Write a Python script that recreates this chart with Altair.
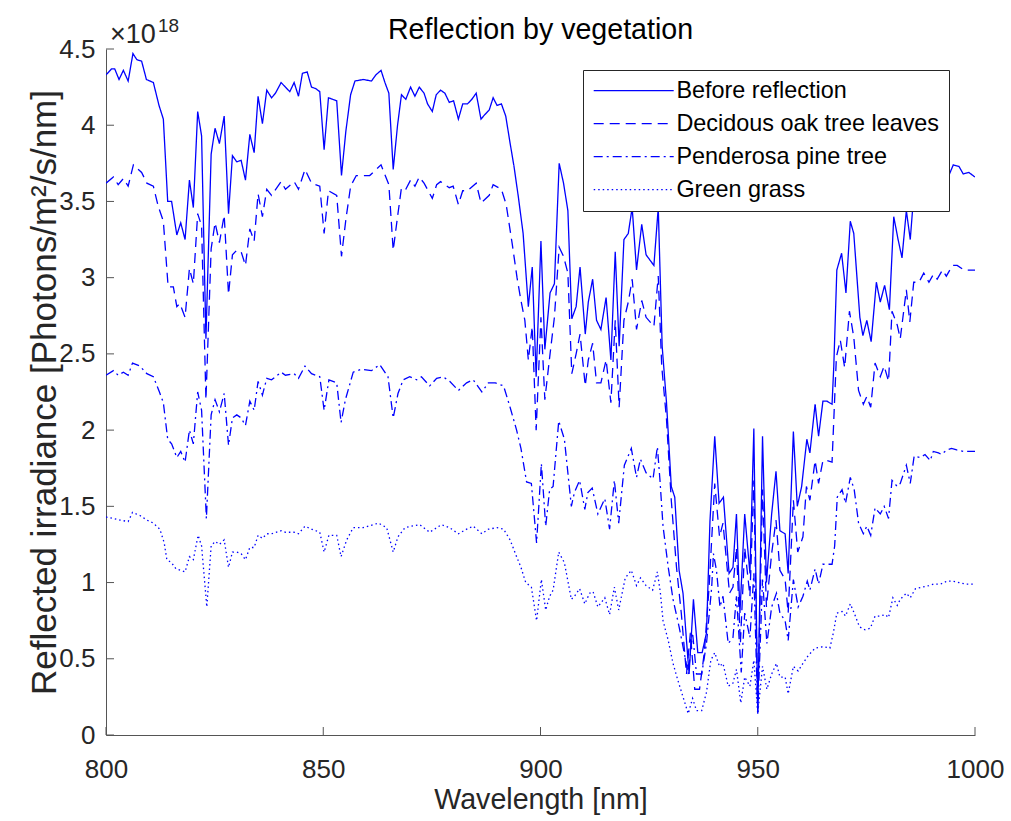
import altair as alt
import pandas as pd

# Reflected irradiance spectra (units of 1e18 photons/m^2/s/nm)
wl_before = [800, 801.3, 802, 803, 804, 805.1, 806.2, 807.1, 808.2, 809.3, 810.9, 812.2, 813.2, 814.2, 815.1,
             816.3, 817.2, 818.2, 819.2, 820.1, 821.1, 822, 823, 824.2, 825.1, 826.1, 827.2, 828.2, 829.1, 830.1,
             831.1, 832.1, 833.1, 834.1, 835, 836, 837, 838.1, 839, 840.3, 841.3, 842.3, 843.3, 844.3, 845.2,
             846.3, 847.3, 848.3, 849.2, 850.2, 851.2, 853.1, 854.2, 855.2, 856.3, 857.3, 859.2, 861.1, 862.1,
             863.3, 864.2, 865.1, 866.1, 867.1, 868, 869, 870.1, 871.1, 872.1, 873.2, 874, 875.1, 876, 877, 878,
             879, 880, 881.1, 882.1, 883.2, 884.2, 885.2, 886.3, 887.2, 888.2, 889.1, 890, 891, 892, 892.9,
             893.9, 894.9, 896, 897.2, 898.1, 899, 900.1, 901, 902.2, 903.2, 904.3, 905.3, 906.3, 907.2, 908.2,
             909.1, 910.3, 911, 912, 912.9, 913.9, 915.1, 916.2, 917.2, 918.1, 919.2, 920.2, 921.1, 922.1, 923.3,
             924.3, 926.1, 927.1, 928, 929, 930.1, 930.9, 931.9, 932.8, 933.6, 934.2, 935.2, 936.2, 937.2, 938.2,
             939, 940.1, 941.1, 942.1, 943.4, 944.3, 945.1, 945.9, 947, 948.2, 949.1, 950, 951.1, 952, 953.2,
             954.2, 955.1, 956.3, 957, 958.2, 959.1, 960.1, 961.3, 962, 963.2, 964, 965, 965.9, 967.1, 967.5,
             968.2, 969.3, 970.3, 971.3, 972.1, 973.5, 974.2, 975.1, 976.1, 977.3, 978.2, 979.2, 980.3, 981.3,
             982.3, 983.2, 984.2, 985.1, 986, 987.1, 988.2, 989.4, 990.4, 991.3, 992.5, 993.4, 995, 996.3, 997.3,
             998.6, 1000]
before = [4.33, 4.37, 4.37, 4.30, 4.36, 4.29, 4.47, 4.43, 4.42, 4.30, 4.28, 4.13, 4.04, 3.50, 3.50,
          3.28, 3.36, 3.25, 3.64, 3.46, 4.09, 3.93, 2.60, 3.81, 3.98, 3.88, 4.06, 3.42, 3.80, 3.76,
          3.77, 3.64, 3.94, 3.82, 4.19, 4.01, 4.23, 4.18, 4.21, 4.28, 4.25, 4.22, 4.28, 4.19, 4.34,
          4.35, 4.25, 4.24, 4.22, 3.84, 4.18, 4.16, 3.67, 3.96, 4.20, 4.29, 4.30, 4.29, 4.33,
          4.36, 4.28, 4.21, 3.71, 4.00, 4.20, 4.17, 4.25, 4.19, 4.25, 4.21, 4.14, 4.09, 4.20, 4.23, 4.21,
          4.15, 4.16, 4.04, 4.14, 4.14, 4.17, 4.21, 4.04, 4.07, 4.10, 4.18, 4.13, 4.14, 4.06, 3.90,
          3.73, 3.53, 3.29, 2.81, 3.07, 2.35, 3.24, 2.53, 2.90, 2.96, 3.75, 3.62, 3.44, 2.73, 2.81,
          3.07, 2.63, 2.84, 2.99, 2.72, 2.66, 2.87, 2.46, 3.17, 2.55, 3.25, 3.29, 3.46, 3.05, 3.35,
          3.15, 3.08, 3.46, 2.55, 2.18, 1.63, 1.56, 1.08, 0.93, 0.62, 0.40, 0.89, 0.54, 0.54, 0.67,
          1.40, 1.96, 1.52, 1.56, 1.06, 1.10, 1.45, 0.80, 1.45, 1.06, 2.01, 0.14, 1.96, 1.00, 1.45,
          1.73, 1.34, 1.32, 1.06, 1.99, 1.50, 1.63, 1.94, 1.85, 2.17, 1.96, 2.19, 2.19, 2.17, 2.42,
          3.05, 3.16, 2.90, 3.37, 3.29, 2.74, 2.62, 2.72, 2.58, 2.97, 2.84, 2.95, 2.79, 3.40,
          3.25, 3.13, 3.44, 3.25, 3.58, 3.58, 3.65, 3.58, 3.64, 3.60, 3.67, 3.63, 3.74, 3.73, 3.68,
          3.69, 3.66]

wl_oak = [800, 801.7, 802.8, 804, 805.1, 806.3, 808.2, 809.4, 810.9, 812, 813.2, 814.3, 815.5, 816.3, 817,
          818.2, 819.2, 820.1, 821.1, 822, 823, 824.2, 825.1, 826.1, 827.2, 828.2, 829.1, 830.1, 831.1, 832.1,
          833.1, 834.1, 835, 836, 837, 838.1, 840.3, 841.3, 843.3, 844.3, 845.8, 847.3, 849.2, 850.2, 851.2,
          853.1, 854.2, 855.2, 856.3, 857.6, 860.7, 863.3, 865.1, 866.1, 867.1, 868, 869, 870.1, 871.1, 872.1,
          873.2, 875.1, 876.1, 877, 879, 879.9, 881.1, 882.1, 883.2, 885.2, 886.3, 888.2, 889.1, 891, 892.1,
          893.5, 894.6, 895.5, 896.4, 897.2, 898.1, 899, 900.1, 901, 902.2, 903.2, 904.3, 905.3, 906.3, 907.2,
          908.2, 909.1, 910.3, 911, 912, 912.9, 913.9, 915.1, 916.2, 917.2, 918.1, 919.2, 920.2, 921.1, 922.1,
          923.3, 924.3, 926.1, 927.1, 927.9, 929, 930.1, 931.3, 932.4, 933.6, 934.5, 935.5, 936.6, 937.7,
          938.8, 940.1, 941.2, 942, 943.5, 944.3, 945.1, 946, 947, 948.2, 949.1, 950, 951.1, 952, 953.2, 954.2,
          955.1, 956.3, 957, 958.2, 959.2, 960.4, 961.2, 962, 963.2, 964, 965, 965.9, 967.1, 968.1, 969, 970,
          971.1, 972.1, 973.2, 974.3, 975.1, 976, 977, 978.2, 979.1, 980.1, 980.9, 982.1, 982.8, 984.2, 985,
          985.9, 987.1, 988.2, 989.4, 990.4, 991.3, 992.5, 993.4, 994.8, 995.9, 997.5, 999.4, 1000]
oak = [3.62, 3.66, 3.61, 3.65, 3.60, 3.74, 3.69, 3.62, 3.60, 3.47, 3.37, 2.94, 2.94, 2.81, 2.83,
       2.74, 3.06, 2.96, 3.42, 3.34, 2.20, 3.19, 3.36, 3.23, 3.41, 2.89, 3.15, 3.18, 3.17, 3.08,
       3.32, 3.24, 3.55, 3.40, 3.58, 3.54, 3.63, 3.58, 3.63, 3.58, 3.71, 3.62, 3.60, 3.29, 3.57,
       3.54, 3.14, 3.38, 3.60, 3.67, 3.67, 3.74, 3.61, 3.18, 3.40, 3.59, 3.58, 3.64, 3.60, 3.66,
       3.62, 3.52, 3.61, 3.63, 3.59, 3.60, 3.48, 3.57, 3.57, 3.62, 3.49, 3.54, 3.61, 3.58, 3.48,
       3.22, 3.00, 2.85, 2.72, 2.46, 2.68, 2.00, 2.74, 2.20, 2.50, 2.74, 3.20, 3.14, 3.03, 2.37,
       2.50, 2.63, 2.29, 2.46, 2.57, 2.31, 2.31, 2.46, 2.18, 2.72, 2.15, 2.72, 2.84, 2.99, 2.66,
       2.85, 2.74, 2.68, 3.01, 2.42, 2.07, 1.54, 1.10, 0.80, 0.40, 0.67, 0.30, 0.30, 0.54,
       0.97, 1.65, 1.30, 1.39, 0.93, 0.97, 1.23, 0.60, 1.23, 0.91, 1.67, 0.17, 1.61, 0.84, 1.19, 1.41,
       1.08, 1.02, 0.80, 1.54, 1.20, 1.30, 1.63, 1.54, 1.80, 1.65, 1.80, 1.80, 1.79, 2.48, 2.59, 2.41,
       2.78, 2.61, 2.26, 2.17, 2.22, 2.15, 2.44, 2.35, 2.42, 2.32, 2.78, 2.69, 2.60, 2.92, 2.71,
       2.97, 2.97, 3.03, 2.97, 3.02, 2.99, 3.05, 3.01, 3.08, 3.08, 3.05, 3.05, 3.05]

wl_pine = [800, 801.7, 802.8, 804, 805.1, 806.1, 807.8, 809.4, 810.9, 812.3, 813.2, 814.2, 815.1, 816.3, 817.2,
           818.2, 819.2, 820.1, 821.1, 822, 823.1, 824.2, 825.1, 826.1, 827.2, 828.2, 829.1, 830.1, 831.1, 832.1,
           833.1, 834.1, 835, 836, 837, 838.1, 840.3, 841.3, 843.3, 844.3, 845.8, 847.3, 849.2, 850.2, 851.3,
           853.1, 854.1, 855.1, 856.9, 858.8, 861.1, 863, 864.9, 866.1, 867.2, 868.4, 869.9, 871.5, 872.6, 874.5,
           876.1, 877.6, 879.1, 881.1, 883, 884.5, 886.5, 888, 889.6, 891.5, 893, 894.5, 895.5, 896.8, 897.9,
           899.1, 900.2, 901.2, 902.1, 902.9, 904.2, 905.5, 907.1, 907.8, 909, 910.2, 910.9, 911.9, 913.2, 914.8,
           915.9, 917, 918, 919.3, 920.9, 922.1, 923, 924.3, 925.9, 926.9, 927.5, 928.2, 929.4, 930.5, 931.9,
           932.8, 934, 935, 935.9, 937.1, 938.2, 939.4, 939.8, 940.5, 941.3, 942, 943.2, 944.3, 945.1, 946.2,
           947, 948.2, 949.1, 950, 951.1, 952.1, 953.2, 954.3, 955.1, 956.3, 957, 958.2, 959.3, 960.4, 961.4,
           962, 963.2, 964, 965, 967.1, 967.7, 968.3, 969.4, 970.2, 971.3, 972.2, 973.2, 974.3, 975.1, 976,
           977, 978.2, 979.1, 980.1, 980.9, 982.1, 982.8, 984.2, 985.1, 986, 987.4, 988.5, 989.7, 990.4, 991.6,
           992.3, 993.5, 994.6, 995.8, 997.3, 999.3, 1000]
pine = [2.36, 2.39, 2.36, 2.38, 2.36, 2.44, 2.42, 2.37, 2.35, 2.25, 2.18, 1.94, 1.91, 1.82, 1.86,
        1.79, 2.00, 1.91, 2.25, 2.13, 1.42, 2.10, 2.20, 2.12, 2.24, 1.90, 2.08, 2.10, 2.08, 2.03,
        2.19, 2.13, 2.32, 2.23, 2.34, 2.33, 2.38, 2.36, 2.37, 2.34, 2.42, 2.37, 2.35, 2.13, 2.33,
        2.31, 2.05, 2.20, 2.38, 2.40, 2.39, 2.43, 2.35, 2.08, 2.24, 2.33, 2.35, 2.33, 2.35, 2.29,
        2.34, 2.35, 2.32, 2.26, 2.31, 2.33, 2.25, 2.31, 2.31, 2.29, 2.15, 2.00, 1.88, 1.66, 1.65,
        1.26, 1.78, 1.37, 1.61, 1.63, 2.06, 1.94, 1.50, 1.59, 1.67, 1.48, 1.59, 1.62, 1.45, 1.55,
        1.35, 1.67, 1.39, 1.77, 1.88, 1.69, 1.81, 1.72, 1.68, 1.89, 1.67, 1.37, 1.10, 0.89, 0.71,
        0.58, 0.40, 0.67, 0.40, 0.40, 0.60, 0.97, 1.19, 1.08, 0.84, 0.91, 0.60, 0.64, 0.91, 0.41,
        0.80, 0.64, 1.06, 0.15, 1.02, 0.60, 0.84, 0.93, 0.80, 0.75, 0.62, 1.02, 0.84, 0.91, 1.01,
        0.95, 1.09, 0.99, 1.12, 1.12, 1.24, 1.56, 1.61, 1.52, 1.69, 1.61, 1.39, 1.32, 1.37, 1.31,
        1.49, 1.45, 1.50, 1.42, 1.67, 1.63, 1.65, 1.77, 1.65, 1.83, 1.82, 1.84, 1.80, 1.86, 1.85,
        1.84, 1.87, 1.88, 1.87, 1.86, 1.86, 1.86]

wl_grass = [800, 801.7, 803.2, 805.1, 806.1, 807.8, 809.4, 810.9, 812.4, 813.4, 814, 815.1, 816.1, 817.2, 818.2,
            819.2, 820.1, 821.2, 822, 823.2, 824.2, 825.1, 826.1, 827.2, 828.2, 829.1, 830.1, 831.1, 832.1,
            833.1, 834.1, 835, 836, 837, 838.1, 840.3, 841.3, 843.3, 844.3, 845.8, 847.3, 849.2, 850.2, 851.3,
            853.1, 854.1, 855.4, 856.9, 859.2, 862.7, 864.6, 866.1, 867.2, 868.8, 870.3, 872.2, 874.5, 877.2,
            879.1, 881.1, 883, 884.5, 886.5, 888, 890, 891.5, 893, 894.5, 895.5, 896.6, 897.9, 899.1, 900.2,
            901.2, 902.1, 902.9, 904.2, 905.5, 907.1, 907.8, 909, 910.2, 911.3, 912.1, 913.2, 914.8, 915.9, 917,
            918, 919.5, 920.9, 922.1, 923, 924.3, 925.8, 926.9, 927.6, 928.2, 929.4, 930.5, 931.6, 932.8, 934,
            935, 935.9, 937.1, 938.2, 939.2, 940.1, 941.2, 942, 943.2, 944.3, 945.1, 946.1, 947, 948.2, 949.1,
            950, 951.1, 952.1, 953.2, 954.3, 955.1, 956.3, 957, 958.2, 959.3, 960.4, 961.6, 963.2, 965.1, 966.6,
            967.4, 968.2, 969.4, 970.2, 971.3, 972.2, 973.4, 974.7, 975.9, 977, 978.2, 979.3, 980.1, 981.1,
            982.1, 982.8, 984.2, 985.1, 986.3, 987.8, 989.4, 990.5, 992.1, 993.6, 994.8, 996.3, 997.8, 999.4,
            1000]
grass = [1.43, 1.42, 1.41, 1.40, 1.46, 1.44, 1.41, 1.39, 1.35, 1.26, 1.15, 1.13, 1.09, 1.08, 1.07,
         1.17, 1.15, 1.31, 1.24, 0.84, 1.24, 1.27, 1.25, 1.28, 1.10, 1.20, 1.20, 1.19, 1.15,
         1.23, 1.23, 1.31, 1.29, 1.32, 1.32, 1.34, 1.33, 1.33, 1.32, 1.37, 1.35, 1.33, 1.20, 1.31,
         1.31, 1.17, 1.28, 1.36, 1.36, 1.39, 1.36, 1.20, 1.30, 1.36, 1.37, 1.38, 1.33, 1.38,
         1.36, 1.32, 1.35, 1.37, 1.32, 1.35, 1.36, 1.35, 1.28, 1.17, 1.10, 1.00, 0.97, 0.75, 1.02,
         0.82, 0.91, 0.95, 1.20, 1.13, 0.89, 0.91, 0.96, 0.86, 0.93, 0.94, 0.84, 0.90, 0.79, 0.97,
         0.82, 1.03, 1.08, 0.98, 1.03, 0.98, 0.95, 1.07, 0.93, 0.75, 0.62, 0.47, 0.36, 0.25, 0.14,
         0.24, 0.16, 0.16, 0.28, 0.49, 0.54, 0.45, 0.47, 0.32, 0.34, 0.43, 0.21, 0.38, 0.32, 0.49,
         0.14, 0.45, 0.30, 0.40, 0.47, 0.38, 0.38, 0.27, 0.45, 0.42, 0.47, 0.52, 0.57, 0.58, 0.57,
         0.67, 0.80, 0.81, 0.78, 0.86, 0.80, 0.71, 0.69, 0.70, 0.78, 0.78, 0.79, 0.77, 0.90,
         0.85, 0.89, 0.93, 0.90, 0.96, 0.97, 0.98, 0.99, 0.99, 1.01, 1.01, 1.00, 0.99, 0.99,
         0.99]

series_names = ["Before reflection", "Decidous oak tree leaves", "Penderosa pine tree", "Green grass"]
x_ticks = [800, 850, 900, 950, 1000]
y_ticks = [0, 0.5, 1, 1.5, 2, 2.5, 3, 3.5, 4, 4.5]
chart_title = "Reflection by vegetation"

frames = []
for order, (name, wl, vals) in enumerate(zip(series_names,
                                             [wl_before, wl_oak, wl_pine, wl_grass],
                                             [before, oak, pine, grass])):
    frames.append(pd.DataFrame({"wavelength": wl, "irradiance": vals, "series": name, "order": order}))
spectra = pd.concat(frames, ignore_index=True)

W, H = 869, 686
FONT = "Liberation Sans"
AX = "#262626"

x_scale = alt.Scale(domain=[800, 1000], nice=False, zero=False)
y_scale = alt.Scale(domain=[0, 4.5], nice=False)

lines = alt.Chart(spectra).mark_line(color="#0000ff", strokeWidth=1.3, clip=True).encode(
    x=alt.X("wavelength:Q", scale=x_scale,
            axis=alt.Axis(values=x_ticks, title="Wavelength [nm]", format="d", labelFlush=False,
                          tickSize=0, labelPadding=21, titlePadding=3)),
    y=alt.Y("irradiance:Q", scale=y_scale,
            axis=alt.Axis(values=y_ticks, title="Reflected irradiance [Photons/m²/s/nm]", format=".1~f",
                          labelFlush=False, tickSize=0, labelPadding=11, titlePadding=-4,
                          titleFontSize=35)),
    strokeDash=alt.StrokeDash(
        "series:N",
        scale=alt.Scale(domain=series_names, range=[[1, 0], [10, 6], [9, 4, 2, 4], [1.5, 3]]),
        legend=alt.Legend(title=None, orient="none", legendX=477, legendY=21,
                          fillColor="white", strokeColor=AX, padding=9,
                          # wide horizontal stroke: path units scale with sqrt(size)/2
                          symbolType="M-4,0H4", symbolSize=400, symbolStrokeWidth=1.3,
                          symbolOffset=30, symbolStrokeColor="#0000ff", symbolFillColor="transparent",
                          labelFontSize=23.4, labelFont=FONT, labelColor="#000000",
                          labelOffset=31, rowPadding=8, labelLimit=400),
    ),
    detail="series:N",
    order="order:Q",
)

tick_x = alt.Chart(pd.DataFrame({"t": x_ticks})).mark_rule(color="#555555", strokeWidth=1).encode(
    x=alt.X("t:Q", scale=x_scale), y=alt.value(H - 8), y2=alt.value(H))
tick_y = alt.Chart(pd.DataFrame({"t": y_ticks})).mark_rule(color="#555555", strokeWidth=1).encode(
    y=alt.Y("t:Q", scale=y_scale), x=alt.value(0), x2=alt.value(8))

exp_base = alt.Chart(pd.DataFrame({"s": ["×10"]})).mark_text(
    font=FONT, fontSize=27, color=AX, align="left", baseline="alphabetic").encode(
    text="s:N", x=alt.value(4), y=alt.value(-6))
exp_pow = alt.Chart(pd.DataFrame({"s": ["18"]})).mark_text(
    font=FONT, fontSize=19, color=AX, align="left", baseline="alphabetic").encode(
    text="s:N", x=alt.value(52), y=alt.value(-17))
title_text = alt.Chart(pd.DataFrame({"s": [chart_title]})).mark_text(
    font=FONT, fontSize=28.6, color="#000000", align="center", baseline="alphabetic").encode(
    text="s:N", x=alt.value(W / 2), y=alt.value(-10))

chart = alt.layer(lines, tick_x, tick_y, exp_base, exp_pow, title_text).properties(
    width=W, height=H,
    autosize=alt.AutoSizeParams(type="none"),
    padding={"left": 106, "top": 49, "right": 36, "bottom": 86},
).configure(background="white").configure_view(stroke=None).configure_axis(
    domainColor="#555555", domainWidth=1, grid=False,
    labelFont=FONT, labelFontSize=26, labelColor=AX,
    titleFont=FONT, titleFontSize=28.6, titleFontWeight="normal", titleColor=AX,
)

chart.save("out.html", embed_options={"renderer": "svg", "actions": False})
